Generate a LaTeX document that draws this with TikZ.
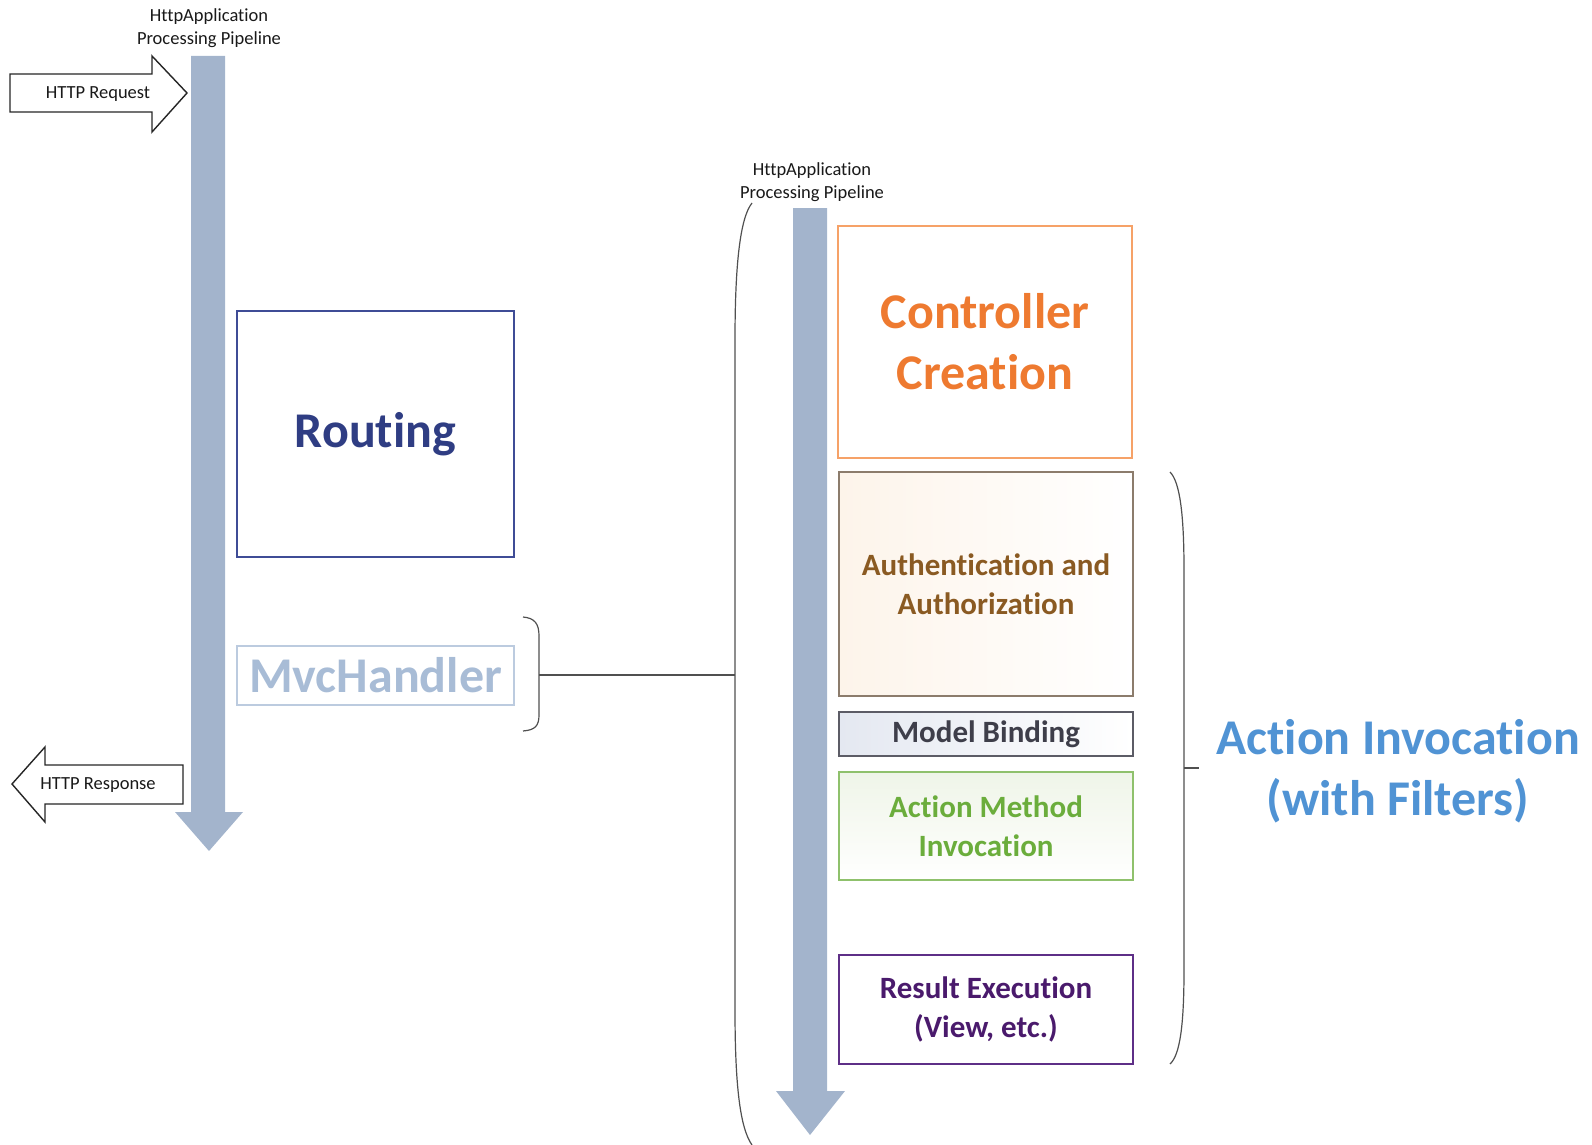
\documentclass[tikz,border=0pt]{standalone}
\usepackage{fontspec}
\setmainfont[Ligatures={NoCommon,NoContextual,NoRequired},Contextuals=NoAlternate]{Carlito}
\definecolor{barblue}{HTML}{A3B4CC}
\definecolor{routtxt}{HTML}{2F3D83}
\definecolor{routbrd}{HTML}{3F4C96}
\definecolor{mvctxt}{HTML}{A8BCD6}
\definecolor{mvcbrd}{HTML}{BCCBDF}
\definecolor{ctrltxt}{HTML}{EE7A30}
\definecolor{ctrlbrd}{HTML}{F6A268}
\definecolor{authtxt}{HTML}{8A5A22}
\definecolor{authbrd}{HTML}{8C7C6C}
\definecolor{authfill}{HTML}{FDF4EA}
\definecolor{mbtxt}{HTML}{3E3E4A}
\definecolor{mbbrd}{HTML}{5C5C66}
\definecolor{mbfill}{HTML}{E4E8F1}
\definecolor{amtxt}{HTML}{6BAD3C}
\definecolor{ambrd}{HTML}{8FC16C}
\definecolor{amfill}{HTML}{EFF5E8}
\definecolor{retxt}{HTML}{4A1A6C}
\definecolor{rebrd}{HTML}{5E2F87}
\definecolor{aitxt}{HTML}{5093D4}
\definecolor{braceg}{HTML}{505050}
\begin{document}
\begin{tikzpicture}[x=1pt,y=-1pt,
  boxst/.style={rectangle, draw, line width=1.3pt, inner sep=0pt, align=center},
  barshape/.style={fill=barblue, draw=none},
  blockarrow/.style={draw=black!85, line width=1.4pt, fill=white, line join=miter},
  bracest/.style={draw=braceg, line width=1.2pt},
  smalltxt/.style={font=\fontsize{18.5}{23}\selectfont, align=center, inner sep=0pt, text=black!90},
  bigtxt/.style={font=\fontsize{50}{61}\selectfont\bfseries},
  midtxt/.style={font=\fontsize{31}{38.5}\selectfont\bfseries}]
\useasboundingbox (0,0) rectangle (1592,1145);

% ---------- left pipeline ----------
\node[smalltxt] (title1) at (209,28) {HttpApplication\\Processing Pipeline};
\path[barshape] (191,56) -- (225,56) -- (225,812) -- (243,812) -- (209,851) -- (175,812) -- (191,812) -- cycle;

\path[blockarrow] (10,74) -- (152,74) -- (152,56) -- (187,93) -- (152,132) -- (152,112) -- (10,112) -- cycle;
\node[smalltxt] (req) at (98,94) {HTTP Request};

\path[blockarrow] (183,765) -- (45,765) -- (45,747) -- (12,784) -- (45,822) -- (45,804) -- (183,804) -- cycle;
\node[smalltxt] (resp) at (98,785) {HTTP Response};

\node[boxst, draw=routbrd, minimum width=277pt, minimum height=246pt, text=routtxt, bigtxt] (routing) at (375.5,434) {Routing};
\node[boxst, draw=mvcbrd, minimum width=277pt, minimum height=59pt, text=mvctxt, bigtxt] (mvc) at (375.5,675.5) {MvcHandler};

% brace around MvcHandler
\coordinate (mvctip) at (539,675);
\path[bracest] (523,617) .. controls (535,618) and (539,624) .. (539,636) -- (539,715) .. controls (539,726) and (535,730) .. (523,731);

% big left brace
\coordinate (bigtip) at (735,675);
\path[bracest] (752,203) .. controls (740,218) and (735,265) .. (735,340) -- (735,1010) .. controls (735,1085) and (740,1128) .. (752,1145);

\draw[bracest] (mvctip) -- (bigtip);

% ---------- right pipeline ----------
\node[smalltxt] (title2) at (812,182) {HttpApplication\\Processing Pipeline};
\path[barshape] (793,208) -- (827,208) -- (827,1091) -- (845,1091) -- (810,1135) -- (776,1091) -- (793,1091) -- cycle;

\node[boxst, draw=ctrlbrd, minimum width=294pt, minimum height=232pt, text=ctrltxt, bigtxt] (ctrl) at (985,342) {Controller\\Creation};
\node[boxst, draw=authbrd, minimum width=294pt, minimum height=224pt, text=authtxt, midtxt,
      shading=axis, shading angle=135, left color=authfill, right color=white] (auth) at (986,584) {Authentication and\\Authorization};
\node[boxst, draw=mbbrd, minimum width=294pt, minimum height=44pt, text=mbtxt, midtxt,
      left color=mbfill, right color=white] (mb) at (986,734) {Model Binding};
\node[boxst, draw=ambrd, minimum width=294pt, minimum height=108pt, text=amtxt, midtxt,
      top color=amfill, bottom color=white] (am) at (986,826) {Action Method\\Invocation};
\node[boxst, draw=rebrd, minimum width=294pt, minimum height=109pt, text=retxt, midtxt] (re) at (986,1009.5) {Result Execution\\(View, etc.)};

% right brace
\coordinate (aitip) at (1184,768);
\coordinate (aitick) at (1199,768);
\path[bracest] (1170,472) .. controls (1180,482) and (1184,515) .. (1184,570) -- (1184,970) .. controls (1184,1025) and (1180,1055) .. (1170,1064);
\draw[bracest] (aitip) -- (aitick);

\node[text=aitxt, bigtxt, align=center, inner sep=0pt] (ai) at (1398,771.5) {Action Invocation\\(with Filters)};
\end{tikzpicture}
\end{document}
